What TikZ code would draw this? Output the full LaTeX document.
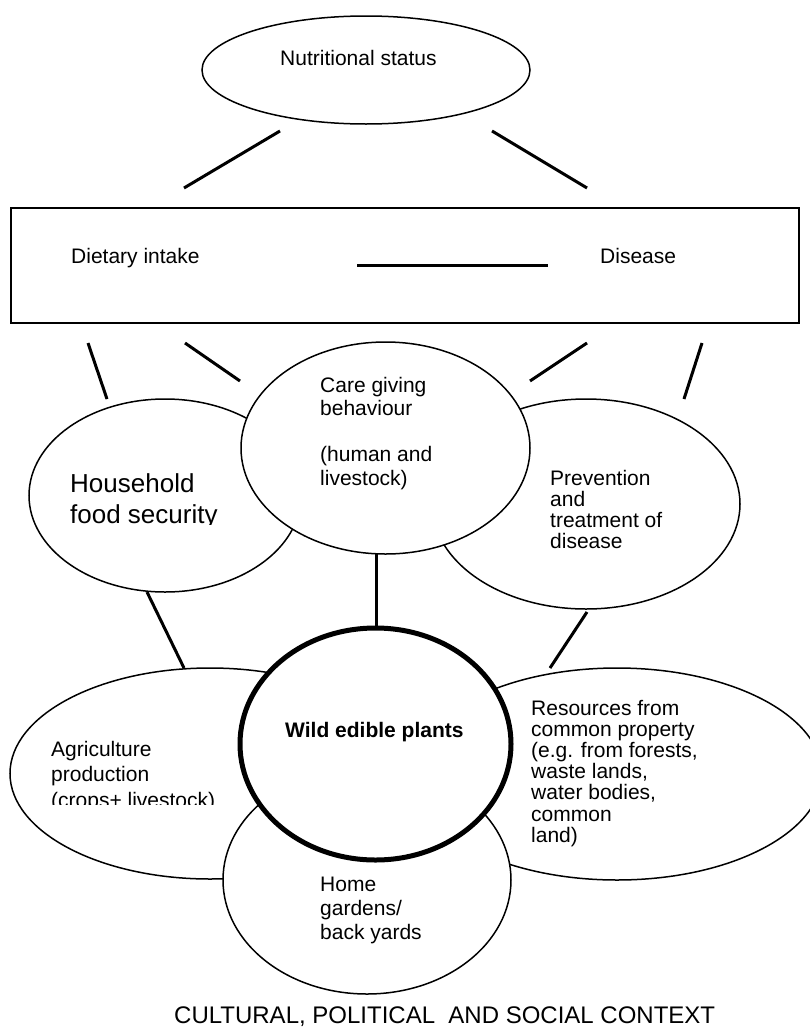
\documentclass[tikz,border=0pt]{standalone}
\usepackage{fontspec}
\setmainfont{Liberation Sans}
\usetikzlibrary{shapes.geometric}
\newcommand\linestack[2]{\vtop{\baselineskip=#1\lineskiplimit=-1000pt\lineskip=0pt\halign{##\hfil\cr#2\crcr}}}
\begin{document}
\begin{tikzpicture}[x=1pt,y=-1pt,
  oval/.style={ellipse, draw, fill=white, line width=1.5pt, inner sep=0pt},
  conn/.style={line width=3pt},
  lbl/.style={anchor=base west, inner sep=0pt, font=\fontsize{21}{23.5}\selectfont},
]
\useasboundingbox (0,0) rectangle (809,1028);
\fill[white] (0,0) rectangle (809,1028);

% connector end points
\coordinate (a1) at (280,131); \coordinate (a2) at (184,188);
\coordinate (b1) at (492,131); \coordinate (b2) at (587,188);
\coordinate (c1) at (88,343);  \coordinate (c2) at (107,399);
\coordinate (d1) at (185,343); \coordinate (d2) at (240,381);
\coordinate (e1) at (587,343); \coordinate (e2) at (530,381);
\coordinate (f1) at (702,343); \coordinate (f2) at (684,399);
\coordinate (h1) at (147,592); \coordinate (h2) at (184,668);
\coordinate (i1) at (587,612); \coordinate (i2) at (550,668);
\coordinate (l1) at (357,265); \coordinate (l2) at (548,265);

% top
\node[oval, minimum width=328pt, minimum height=108pt] (nut) at (366,70) {};
\node[draw, line width=2pt, minimum width=788pt, minimum height=115pt, inner sep=0pt] (box) at (405,265.5) {};

\draw[conn] (a1) -- (a2);
\draw[conn] (b1) -- (b2);
\draw[conn] (c1) -- (c2);
\draw[conn] (d1) -- (d2);
\draw[conn] (e1) -- (e2);
\draw[conn] (f1) -- (f2);
\draw[conn] (l1) -- (l2);
\draw[conn] (h1) -- (h2);
\draw[conn] (i1) -- (i2);
\draw[conn] (376,553) coordinate (g1) -- (376,628) coordinate (g2);

% middle row
\node[oval, minimum width=272pt, minimum height=193pt] (house) at (165,495.5) {};
\node[oval, minimum width=308pt, minimum height=210pt] (prev) at (586,504) {};
\node[oval, minimum width=289pt, minimum height=212pt] (care) at (385.5,448) {};

% bottom row
\node[oval, minimum width=400pt, minimum height=211pt] (agri) at (210,773.5) {};
\node[oval, minimum width=410pt, minimum height=212pt] (res) at (617,774) {};
\node[oval, minimum width=288pt, minimum height=228pt] (home) at (367,880) {};
\node[oval, line width=5pt, minimum width=271pt, minimum height=232pt] (wild) at (375.5,744) {};

% texts
\node[lbl] (nutt) at (280,65) {Nutritional status};
\node[lbl] (diet) at (71,263) {Dietary intake};
\node[lbl] (dis) at (600,263) {Disease};
\node[lbl] (caret) at (320,392) {\linestack{23.3pt}{Care giving\cr behaviour\cr\cr (human and\cr livestock)}};
\begin{scope}
\clip (60,440) rectangle (300,524);
\node[lbl, font=\fontsize{26}{31}\selectfont] (houset) at (70,492) {\linestack{31pt}{Household\cr food security}};
\end{scope}
\node[lbl] (prevt) at (550,485) {\linestack{21pt}{Prevention\cr and\cr treatment of\cr disease}};
\node[lbl, font=\fontsize{21}{23.5}\selectfont\bfseries] (wildt) at (285,737) {Wild edible plants};
\begin{scope}
\clip (40,700) rectangle (260,804);
\node[lbl] (agrit) at (51,756) {\linestack{25.5pt}{Agriculture\cr production\cr (crops+ livestock)}};
\end{scope}
\node[lbl] (rest) at (531,715) {\linestack{21.2pt}{Resources from\cr common property\cr (e.g. from forests,\cr waste lands,\cr water bodies,\cr common\cr land)}};
\node[lbl] (homet) at (320,891) {\linestack{24pt}{Home\cr gardens/\cr back yards}};
\node[anchor=base west, inner sep=0pt, font=\fontsize{24}{27}\selectfont] (ctx) at (174,1023) {CULTURAL, POLITICAL\ \ AND SOCIAL CONTEXT};
\end{tikzpicture}
\end{document}
